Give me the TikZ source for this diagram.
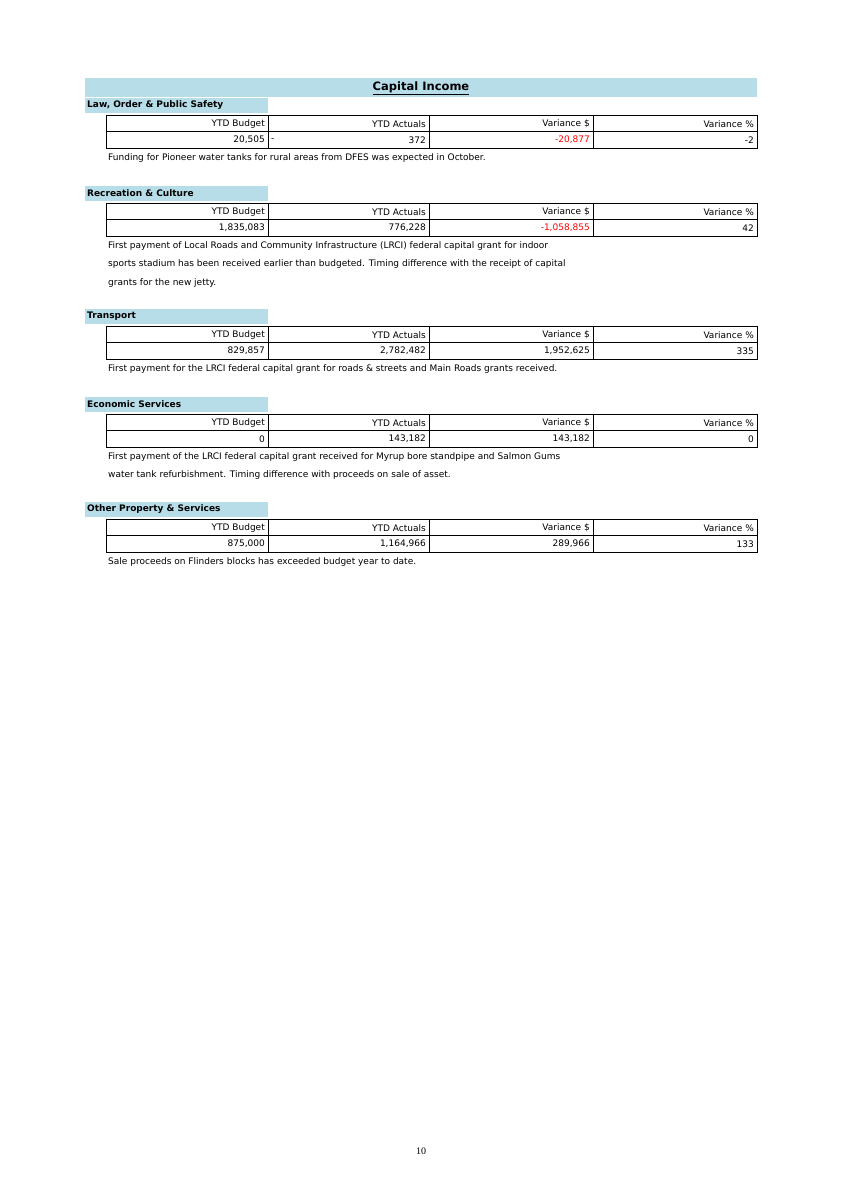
\documentclass[tikz,border=0pt]{standalone}
\usepackage{fontspec}
\setmainfont{DejaVu Sans}
\newfontfamily\serifpn{Liberation Serif}
\definecolor{band}{RGB}{183,221,232}
\definecolor{negred}{RGB}{255,0,0}
\begin{document}
\begin{tikzpicture}[x=1pt,y=-1pt,
  txt/.style={inner sep=0pt,font=\fontsize{9}{11}\selectfont},
  hdr/.style={inner sep=0pt,anchor=west,font=\fontsize{9}{11}\selectfont\bfseries},
  captxt/.style={inner sep=0pt,anchor=west,font=\fontsize{9}{11}\selectfont},
  cellr/.style={inner sep=0pt,anchor=east,font=\fontsize{9}{11}\selectfont}]
\useasboundingbox (0,0) rectangle (843,1193);
\fill[band] (85,78) rectangle (757,97);
\node[inner sep=0pt,font=\fontsize{11.5}{13}\selectfont\bfseries] (title) at (421,88) {\underline{Capital Income}};
\newcommand\sect[8]{%
  \fill[band] (85,#1-7) rectangle (268,#1+8);
  \node[hdr] (h#2) at (87,#1) {#3};
  \draw[line width=0.8pt] (106,#1+10) rectangle (757,#1+43);
  \draw[line width=0.8pt] (106,#1+26) -- (757,#1+26);
  \foreach \xx in {268,429,593}{\draw[line width=0.8pt] (\xx,#1+10) -- (\xx,#1+43);}
  \node[cellr] (a#2) at (265,#1+19) {YTD Budget};
  \node[cellr] (b#2) at (426,#1+19) {YTD Actuals};
  \node[cellr] (c#2) at (590,#1+19) {Variance \$};
  \node[cellr] (d#2) at (754,#1+19) {Variance \%};
  \node[cellr] (e#2) at (265,#1+35) {#4};
  \node[cellr] (f#2) at (426,#1+35) {#5};
  \node[cellr] (g#2) at (590,#1+35) {#6};
  \node[cellr] (k#2) at (754,#1+35) {#7};
  #8}
\sect{105}{1}{Law, Order \& Public Safety}{20,505}{372}{\textcolor{negred}{-20,877}}{-2}{%
  \node[txt,anchor=west] (m1) at (271,140) {-};
  \node[captxt] (c1a) at (108,158) {Funding for Pioneer water tanks for rural areas from DFES was expected in October.};}
\sect{193}{2}{Recreation \& Culture}{1,835,083}{776,228}{\textcolor{negred}{-1,058,855}}{42}{%
  \node[captxt] (c2a) at (108,246) {First payment of Local Roads and Community Infrastructure (LRCI) federal capital grant for indoor};
  \node[captxt] (c2b) at (108,264) {sports stadium has been received earlier than budgeted. Timing difference with the receipt of capital};
  \node[captxt] (c2c) at (108,283) {grants for the new jetty.};}
\sect{316}{3}{Transport}{829,857}{2,782,482}{1,952,625}{335}{%
  \node[captxt] (c3a) at (108,369) {First payment for the LRCI federal capital grant for roads \& streets and Main Roads grants received.};}
\sect{404}{4}{Economic Services}{0}{143,182}{143,182}{0}{%
  \node[captxt] (c4a) at (108,457) {First payment of the LRCI federal capital grant received for Myrup bore standpipe and Salmon Gums};
  \node[captxt] (c4b) at (108,475) {water tank refurbishment. Timing difference with proceeds on sale of asset.};}
\sect{509}{5}{Other Property \& Services}{875,000}{1,164,966}{289,966}{133}{%
  \node[captxt] (c5a) at (108,562) {Sale proceeds on Flinders blocks has exceeded budget year to date.};}
\node[inner sep=0pt,font=\serifpn\fontsize{10}{12}\selectfont] (pg) at (421,1151) {10};
\end{tikzpicture}
\end{document}
